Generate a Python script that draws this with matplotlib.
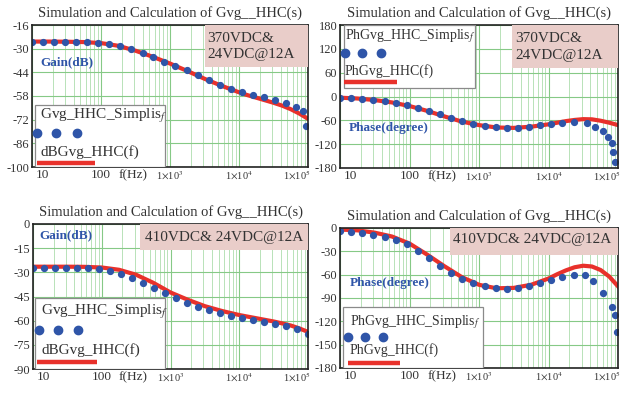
import matplotlib
matplotlib.use("Agg")
import matplotlib.pyplot as plt
from matplotlib.patches import Rectangle
from matplotlib.lines import Line2D
import matplotlib.transforms as mtransforms

plt.rcParams['font.family'] = ['Liberation Serif', 'DejaVu Serif']
plt.rcParams['mathtext.fontset'] = 'stix'

# ---------------- data ----------------
TITLE = "Simulation and Calculation of Gvg__HHC(s)"
X_TICKS = [10, 100, 1000, 10000, 100000]
X_TICK_LABELS = ["10", "100", r"1$\times$10$^{3}$", r"1$\times$10$^{4}$", r"1$\times$10$^{5}$"]

# calculated curves (red) frequencies
F_LINE = [10, 17.8, 31.6, 56.2, 100, 178, 316, 562, 1000, 1780, 3160, 5620,
          10000, 13300, 17800, 23700, 31600, 42200, 56200, 75000, 100000]
GAIN_370_CALC = [-25.8, -25.8, -25.9, -26.1, -26.7, -28.3, -31.2, -34.8, -38.8,
                 -43.2, -47.8, -52.0, -55.8, -57.5, -59.0, -60.5, -62.0, -63.7,
                 -65.8, -68.4, -71.5]
PHASE_370_CALC = [-3, -5, -9, -15, -24, -36, -50, -63, -72, -78, -79, -76, -70,
                  -66, -62, -59, -57, -57.5, -61, -66, -72]
GAIN_410_CALC = [-26.5, -26.5, -26.5, -26.6, -27.0, -28.4, -31.5, -36.5, -42.5,
                 -47.0, -51.0, -54.0, -56.5, -57.5, -58.5, -59.5, -60.5, -61.7,
                 -63.0, -64.8, -67.0]
PHASE_410_CALC = [-2, -3, -6, -11, -20, -34, -49, -63, -73, -77.5, -77, -73, -65,
                  -59.5, -54.5, -50.5, -48.5, -49.5, -54, -62.5, -75]

# simulation points (blue dots)
F_SIM_GAIN_370 = [10, 14.5, 21, 30, 44, 63, 91, 132, 191, 275, 400, 575, 830,
                  1200, 1740, 2510, 3630, 5250, 7590, 11000, 15800, 22900,
                  33100, 47900, 67600, 85000, 93000]
GAIN_370_SIM = [-25.8, -25.8, -25.8, -25.9, -26.0, -26.2, -26.5, -27.3, -28.6,
                -30.4, -32.6, -35.0, -37.6, -40.2, -42.9, -45.8, -48.6, -51.3,
                -53.6, -55.6, -57.2, -58.7, -60.2, -62.0, -64.3, -67.0, -76.0]

F_SIM_PHASE_370 = [10, 14.5, 21, 30, 44, 63, 91, 132, 191, 275, 400, 575, 830,
                   1200, 1740, 2510, 3630, 5250, 7590, 11000, 15800, 22900,
                   35500, 46800, 61700, 72400, 81300, 85100, 89100]
PHASE_370_SIM = [-4, -5, -6.5, -8.5, -11.5, -15.5, -21, -28, -36, -45, -54, -62,
                 -69, -74, -77.5, -79, -78.5, -76, -73, -69.5, -66, -63.5,
                 -67.7, -76, -87, -101, -118, -139, -164]

F_SIM_GAIN_410 = [10, 14.5, 21, 30, 44, 63, 91, 132, 191, 275, 400, 575, 830,
                  1200, 1740, 2510, 3630, 5250, 7590, 11000, 15800, 22900,
                  33100, 47900, 69200, 100000]
GAIN_410_SIM = [-27.0, -27.0, -27.0, -27.1, -27.2, -27.5, -28.0, -29.2, -31.0,
                -33.6, -36.6, -39.8, -43.0, -46.0, -48.8, -51.3, -53.5, -55.3,
                -57.0, -58.4, -59.6, -60.8, -62.0, -63.5, -65.3, -68.0]

F_SIM_PHASE_410 = [10, 14.5, 21, 30, 44, 63, 91, 132, 191, 275, 400, 575, 830,
                   1200, 1740, 2510, 3630, 5250, 7590, 11000, 15800, 22900,
                   33900, 43700, 61700, 81300, 89100, 97700]
PHASE_410_SIM = [-4, -5.5, -7, -9, -11.5, -15, -21, -29, -39, -49, -58, -65, -71,
                 -75, -77.5, -78, -77, -74.5, -71, -67, -63, -61, -60,
                 -68, -84, -101, -112, -134]

GAIN_370_YTICKS = [-100, -86, -72, -58, -44, -30, -16]
PHASE_370_YTICKS = [-180, -120, -60, 0, 60, 120, 180]
GAIN_410_YTICKS = [-90, -75, -60, -45, -30, -15, 0]
PHASE_410_YTICKS = [-180, -150, -120, -90, -60, -30, 0]

ANNOT_370 = "370VDC&\n24VDC@12A"
ANNOT_410 = "410VDC& 24VDC@12A"

# ---------------- style ----------------
RED = '#e8312b'
BLUE = '#2f55a8'
PINK = '#e9cdc9'
GRID_MAJ = '#86c986'
GRID_MIN = '#b8e2b8'
TXT = '#333333'

fig = plt.figure(figsize=(6.22, 3.96), dpi=100)
W, H = 622, 396


def make_axes(x0, x1, ytop, ybot):
    return fig.add_axes([x0 / W, 1 - ybot / H, (x1 - x0) / W, (ybot - ytop) / H])


def setup(ax, yticks):
    ax.set_xscale('log')
    ax.set_xlim(10, 100000)
    ax.set_ylim(yticks[0], yticks[-1])
    ax.set_xticks(X_TICKS)
    ax.set_xticklabels([''] + X_TICK_LABELS[1:-1] + [''])
    ax.xaxis.set_minor_locator(matplotlib.ticker.LogLocator(base=10, subs=range(2, 10)))
    ax.xaxis.set_minor_formatter(matplotlib.ticker.NullFormatter())
    ax.set_yticks(yticks)
    ax.set_yticklabels([str(v) for v in yticks])
    ax.tick_params(which='both', length=0)
    ax.tick_params(axis='x', pad=1.5, labelsize=9.5, colors=TXT)
    ax.tick_params(axis='y', pad=2, labelsize=9, colors=TXT)
    labels = ax.get_xticklabels()
    for lb in labels[2:]:
        lb.set_fontsize(7.5)
    ax.annotate(X_TICK_LABELS[0], xy=(0, 0), xycoords='axes fraction',
                xytext=(3, -1.5), textcoords='offset points', ha='left', va='top',
                fontsize=9.5, color=TXT)
    ax.annotate(X_TICK_LABELS[-1], xy=(1, 0), xycoords='axes fraction',
                xytext=(2, -1.5), textcoords='offset points', ha='right', va='top',
                fontsize=7.5, color=TXT)
    ax.grid(which='major', axis='both', color=GRID_MAJ, lw=0.8)
    ax.grid(which='minor', axis='x', color=GRID_MIN, lw=0.7)
    ax.set_axisbelow(True)
    for s in ax.spines.values():
        s.set_color('#222222')
        s.set_linewidth(1.2)
    ax.set_title(TITLE, fontsize=10.5, color=TXT, pad=6)
    tr = mtransforms.blended_transform_factory(ax.transData, ax.transAxes)
    ax.annotate('f(Hz)', xy=(290, 0), xycoords=tr, xytext=(0, -1.5),
                textcoords='offset points', ha='center', va='top', fontsize=9.5, color=TXT)


def annot_box(ax, x0, y0, lines, tx, tys, fs=11):
    ax.add_patch(Rectangle((x0, y0), 1 - x0, 1 - y0, transform=ax.transAxes,
                           facecolor=PINK, edgecolor='none', zorder=3))
    for line, ty in zip(lines, tys):
        ax.text(tx, ty, line, transform=ax.transAxes, ha='left', va='center',
                fontsize=fs, color=TXT, zorder=4)


def legend_box(ax, box, t1, t1y, dots_x, dots_y, t2, t2y, tx, red_x, red_y, fs=10.5):
    bx0, by0, bx1, by1 = box
    ax.add_patch(Rectangle((bx0, by0), bx1 - bx0, by1 - by0, transform=ax.transAxes,
                           facecolor='white', edgecolor='#8a8a8a', lw=0.9, zorder=5))
    ax.text(tx, t1y, t1, transform=ax.transAxes, ha='left', va='center',
            fontsize=fs, color=TXT, zorder=6)
    ax.add_line(Line2D(dots_x, [dots_y] * len(dots_x), transform=ax.transAxes,
                       ls='none', marker='o', ms=6, color=BLUE, zorder=6))
    ax.text(tx, t2y, t2, transform=ax.transAxes, ha='left', va='center',
            fontsize=fs, color=TXT, zorder=6)
    ax.add_line(Line2D(red_x, [red_y, red_y], transform=ax.transAxes,
                       lw=3.2, color=RED, solid_capstyle='butt', zorder=6))


# ---------- top-left: gain 370 ----------
ax1 = make_axes(32, 308, 25, 167)
setup(ax1, GAIN_370_YTICKS)
ax1.plot(F_LINE, GAIN_370_CALC, color=RED, lw=3, zorder=2)
ax1.plot(F_SIM_GAIN_370, GAIN_370_SIM, ls='none', marker='o', ms=4.2, color=BLUE, zorder=2.5)
annot_box(ax1, 0.627, 0.704, ANNOT_370.split('\n'), 0.635, [0.905, 0.79])
ax1.text(0.03, 0.74, 'Gain(dB)', transform=ax1.transAxes, fontsize=9.5,
         fontweight='bold', color=BLUE, va='center', zorder=4)
legend_box(ax1, (0.011, 0.0, 0.482, 0.437), 'Gvg_HHC_Simplis$_{f}$', 0.36,
           [0.018, 0.087, 0.163], 0.24, 'dBGvg_HHC(f)', 0.106, 0.029,
           [0.018, 0.228], 0.03, fs=11)

# ---------- top-right: phase 370 ----------
ax2 = make_axes(340, 618, 25, 168)
setup(ax2, PHASE_370_YTICKS)
ax2.plot(F_LINE, PHASE_370_CALC, color=RED, lw=3, zorder=2)
ax2.plot(F_SIM_PHASE_370, PHASE_370_SIM, ls='none', marker='o', ms=4.2, color=BLUE, zorder=2.5)
annot_box(ax2, 0.619, 0.699, ANNOT_370.split('\n'), 0.63, [0.905, 0.79])
ax2.text(0.03, 0.28, 'Phase(degree)', transform=ax2.transAxes, fontsize=9.5,
         fontweight='bold', color=BLUE, va='center', zorder=4)
legend_box(ax2, (0.014, 0.56, 0.486, 1.0), 'PhGvg_HHC_Simplis$_{f}$', 0.925,
           [0.018, 0.078, 0.147], 0.804, 'PhGvg_HHC(f)', 0.678, 0.018,
           [0.014, 0.204], 0.6, fs=10)

# ---------- bottom-left: gain 410 ----------
ax3 = make_axes(33, 308, 224, 369)
setup(ax3, GAIN_410_YTICKS)
ax3.plot(F_LINE, GAIN_410_CALC, color=RED, lw=3, zorder=2)
ax3.plot(F_SIM_GAIN_410, GAIN_410_SIM, ls='none', marker='o', ms=4.2, color=BLUE, zorder=2.5)
annot_box(ax3, 0.389, 0.82, [ANNOT_410], 0.407, [0.91])
ax3.text(0.025, 0.92, 'Gain(dB)', transform=ax3.transAxes, fontsize=9.5,
         fontweight='bold', color=BLUE, va='center', zorder=4)
legend_box(ax3, (0.007, 0.0, 0.48, 0.49), 'Gvg_HHC_Simplis$_{f}$', 0.395,
           [0.022, 0.091, 0.164], 0.269, 'dBGvg_HHC(f)', 0.131, 0.03,
           [0.015, 0.233], 0.05, fs=11)

# ---------- bottom-right: phase 410 ----------
ax4 = make_axes(340, 618, 228, 368)
setup(ax4, PHASE_410_YTICKS)
ax4.plot(F_LINE, PHASE_410_CALC, color=RED, lw=3, zorder=2)
ax4.plot(F_SIM_PHASE_410, PHASE_410_SIM, ls='none', marker='o', ms=4.2, color=BLUE, zorder=2.5)
annot_box(ax4, 0.396, 0.807, [ANNOT_410], 0.406, [0.915])
ax4.text(0.036, 0.607, 'Phase(degree)', transform=ax4.transAxes, fontsize=9.5,
         fontweight='bold', color=BLUE, va='center', zorder=4)
legend_box(ax4, (0.011, 0.0, 0.514, 0.436), 'PhGvg_HHC_Simplis$_{f}$', 0.331,
           [0.029, 0.09, 0.155], 0.224, 'PhGvg_HHC(f)', 0.129, 0.036,
           [0.029, 0.216], 0.036, fs=10)

fig.savefig('out.png', dpi=100, facecolor='white')
